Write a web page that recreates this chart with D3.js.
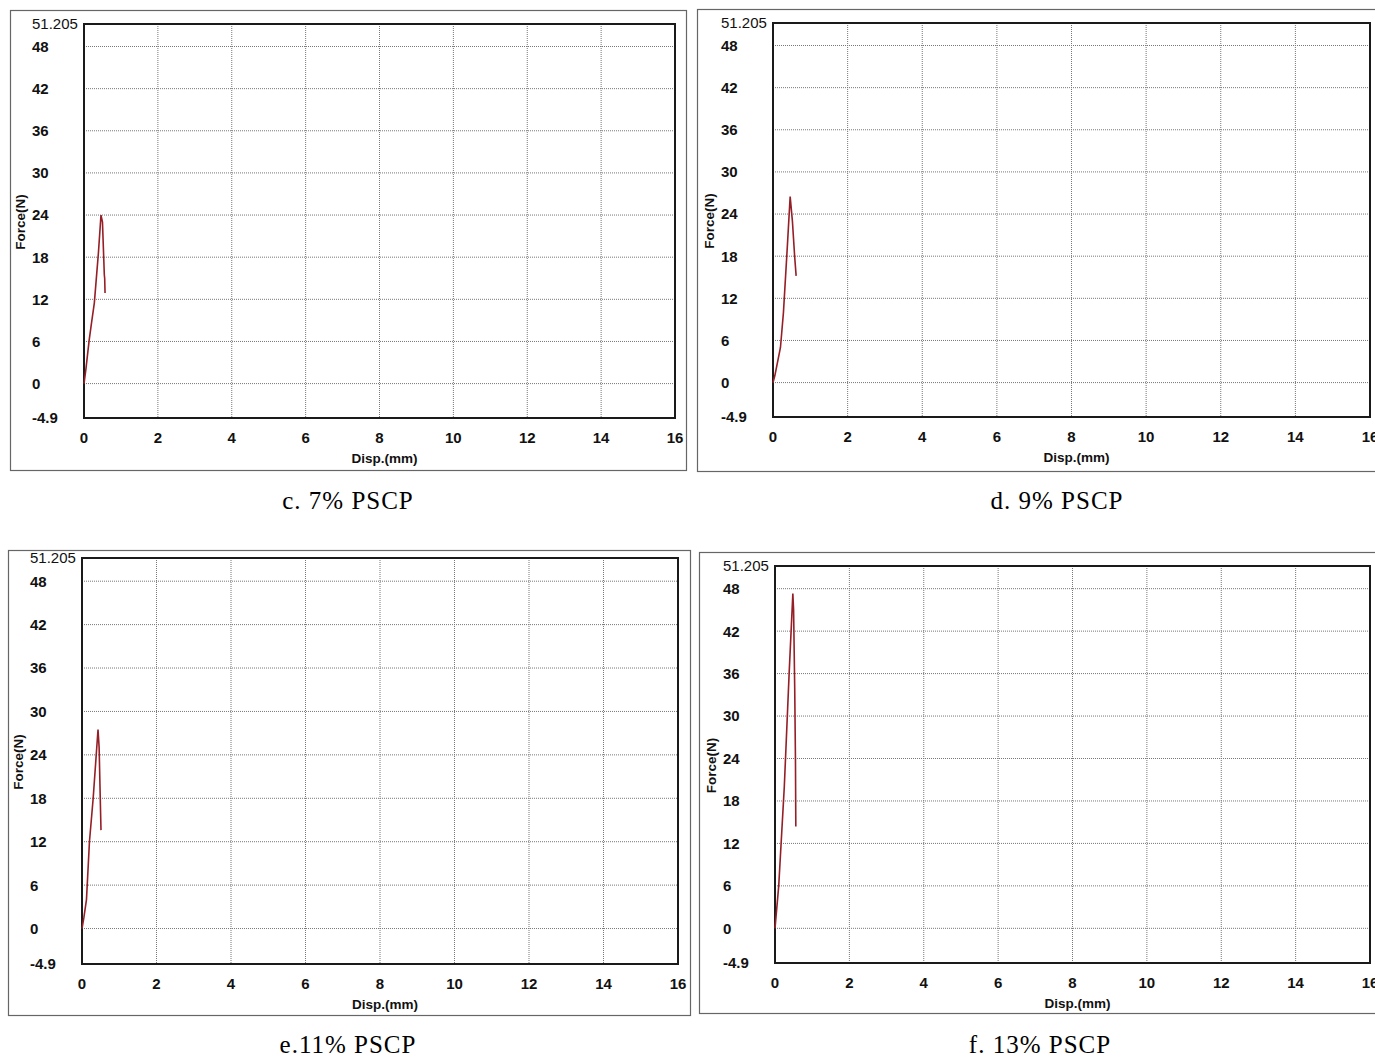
<!DOCTYPE html>
<head>
<style type="text/css">
    body {
      margin: 0;
      background: #fff;
    }
    .tick-num { font-family: "Liberation Sans", Arial, sans-serif; font-size: 15px; font-weight: bold; fill: #111; }
    .ax-title { font-family: "Liberation Sans", Arial, sans-serif; font-size: 13.5px; font-weight: bold; fill: #111; }
    .caption { font-family: "Liberation Serif", "Times New Roman", serif; font-size: 25px; letter-spacing: 1px; fill: #000; }
</style>
</head>
<script src="https://d3js.org/d3.v7.min.js"></script>
<body>
    <svg width="1375" height="1057"></svg>
    <script>
        // tick values shared by all four panels
        var xTicks = [0, 2, 4, 6, 8, 10, 12, 14, 16],
            yTicks = [51.205, 48, 42, 36, 30, 24, 18, 12, 6, 0, -4.9],
            gridX = [2, 4, 6, 8, 10, 12, 14],
            gridY = [48, 42, 36, 30, 24, 18, 12, 6, 0];

        var captions = ["c. 7% PSCP", "d. 9% PSCP", "e.11% PSCP", "f. 13% PSCP"];

        // force vs displacement
        var pscp7 = [[0,0],[0.05,2],[0.14,6.2],[0.2,8.5],[0.28,11.5],[0.39,18.6],[0.46,24],[0.5,23],[0.55,15.5],[0.56,15],[0.57,12.9]];
        var pscp9 = [[0,0],[0.05,1],[0.2,5],[0.28,10],[0.38,19],[0.46,26.5],[0.52,23],[0.58,18],[0.62,15.2]];
        var pscp11 = [[0,0],[0.05,1.5],[0.12,4],[0.2,12],[0.3,18],[0.43,27.5],[0.46,25],[0.49,18],[0.51,13.6]];
        var pscp13 = [[0,0],[0.1,6],[0.25,20],[0.38,36],[0.48,47.3],[0.5,45],[0.53,34],[0.55,24],[0.56,14.4]];

        var series = [pscp7, pscp9, pscp11, pscp13];

        // panel frames: outer box, plot area, caption centre
        var layout = [
            {box: [10, 10, 676, 460], plot: [84, 24, 675, 418], cap: [348, 509]},
            {box: [697, 9, 690, 462], plot: [773, 23, 1370, 417], cap: [1057, 509]},
            {box: [8, 550, 682, 465], plot: [82, 558, 678, 964], cap: [348, 1053]},
            {box: [699, 552, 690, 461], plot: [775, 566, 1370, 963], cap: [1040, 1053]}
        ];

        var svg = d3.select("svg");

        layout.forEach(function(L, i) {
            var g = svg.append("g");
            var p = L.plot;

            var x = d3.scaleLinear().domain([0, 16]).range([p[0], p[2]]);
            var y = d3.scaleLinear().domain([-4.9, 51.205]).range([p[3], p[1]]);

            g.append("rect")
                .attr("x", L.box[0] + 0.5).attr("y", L.box[1] + 0.5)
                .attr("width", L.box[2]).attr("height", L.box[3])
                .style("fill", "none").style("stroke", "#666").style("stroke-width", 1.2);

            // grid
            g.selectAll(".gx").data(gridX).enter().append("line")
                .attr("x1", function(d) { return x(d); }).attr("x2", function(d) { return x(d); })
                .attr("y1", p[1]).attr("y2", p[3])
                .style("stroke", "#777").style("stroke-width", 1).style("stroke-dasharray", "1,1");
            g.selectAll(".gy").data(gridY).enter().append("line")
                .attr("x1", p[0]).attr("x2", p[2])
                .attr("y1", function(d) { return y(d); }).attr("y2", function(d) { return y(d); })
                .style("stroke", "#777").style("stroke-width", 1).style("stroke-dasharray", "1,1");

            g.append("rect")
                .attr("x", p[0]).attr("y", p[1])
                .attr("width", p[2] - p[0]).attr("height", p[3] - p[1])
                .style("fill", "none").style("stroke", "#1a1a1a").style("stroke-width", 2);

            // y tick labels, left aligned
            g.selectAll(".yl").data(yTicks).enter().append("text")
                .attr("class", "tick-num")
                .attr("x", p[0] - 52)
                .attr("y", function(d) { return y(d); })
                .attr("dy", "0.36em")
                .style("font-weight", function(d) { return d === 51.205 ? "normal" : "bold"; })
                .text(function(d) { return d; });

            g.selectAll(".xl").data(xTicks).enter().append("text")
                .attr("class", "tick-num")
                .attr("x", function(d) { return x(d); })
                .attr("y", p[3] + 25)
                .attr("text-anchor", "middle")
                .text(function(d) { return d; });

            g.append("text").attr("class", "ax-title")
                .attr("x", (p[0] + p[2]) / 2 + 5).attr("y", p[3] + 45)
                .attr("text-anchor", "middle")
                .text("Disp.(mm)");

            g.append("text").attr("class", "ax-title")
                .attr("transform", "translate(" + (p[0] - 59) + "," + y(23) + ")rotate(-90)")
                .attr("text-anchor", "middle")
                .text("Force(N)");

            var line = d3.line()
                .x(function(d) { return x(d[0]); })
                .y(function(d) { return y(d[1]); });

            g.append("path")
                .datum(series[i])
                .attr("d", line)
                .style("fill", "none").style("stroke", "#951f26").style("stroke-width", 1.6);

            g.append("text").attr("class", "caption")
                .attr("x", L.cap[0]).attr("y", L.cap[1])
                .attr("text-anchor", "middle")
                .text(captions[i]);
        });
    </script>
</body>
